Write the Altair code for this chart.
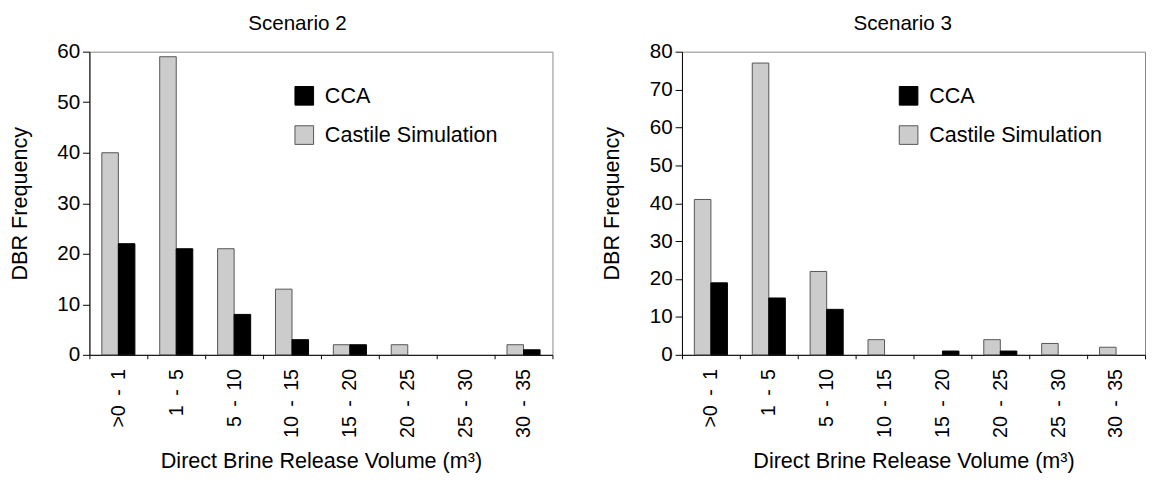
import altair as alt
import pandas as pd

categories = [">0 - 1", "1 - 5", "5 - 10", "10 - 15", "15 - 20", "20 - 25", "25 - 30", "30 - 35"]
series_names = ["CCA", "Castile Simulation"]

s2_castile = [40, 59, 21, 13, 2, 2, 0, 2]
s2_cca = [22, 21, 8, 3, 2, 0, 0, 1]
s3_castile = [41, 77, 22, 4, 0, 4, 3, 2]
s3_cca = [19, 15, 12, 0, 1, 1, 0, 0]

FONT = "Liberation Sans"
THIN = "\u2009"


def panel(castile, cca, title, ymax, width, legx, dx):
    df = pd.DataFrame({
        "cat": categories * 2,
        "series": ["Castile Simulation"] * len(categories) + ["CCA"] * len(categories),
        "value": castile + cca,
    })
    leg = alt.Legend(
        orient="none", legendX=legx, legendY=34, title=None,
        symbolType="square", symbolSize=361, symbolStrokeWidth=1,
        labelFontSize=22, labelFont=FONT, labelColor="black", labelLimit=0,
        labelOffset=10, rowPadding=16, padding=0,
    )
    return alt.Chart(df).transform_filter(
        alt.datum.value > 0
    ).mark_bar(strokeWidth=1).encode(
        x=alt.X(
            "cat:N", sort=categories,
            scale=alt.Scale(domain=categories, paddingInner=0, paddingOuter=0),
            axis=alt.Axis(
                title="Direct Brine Release Volume (m³)", labelAngle=-90,
                tickBand="extent", tickSize=4, labelPadding=10,
                labelExpr="replace(datum.label, ' - ', ' " + THIN + "-" + THIN + " ')",
                titlePadding=14,
            ),
        ),
        xOffset=alt.XOffset(
            "series:N",
            scale=alt.Scale(domain=["Castile Simulation", "CCA"], paddingInner=0, paddingOuter=0.75),
        ),
        y=alt.Y(
            "value:Q",
            scale=alt.Scale(domain=[0, ymax], nice=False),
            axis=alt.Axis(values=list(range(0, ymax + 1, 10)), title="DBR Frequency",
                          tickSize=7, labelPadding=3, titlePadding=26),
        ),
        color=alt.Color("series:N",
                        scale=alt.Scale(domain=series_names, range=["#000000", "#cccccc"]),
                        legend=leg),
        stroke=alt.Stroke("series:N",
                          scale=alt.Scale(domain=series_names, range=["#000000", "#555555"]),
                          legend=leg),
    ).properties(
        width=width, height=309,
        title=alt.TitleParams(title, dx=dx),
    )


left = panel(s2_castile, s2_cca, "Scenario 2", 60, 472, 208, -24)
right = panel(s3_castile, s3_cca, "Scenario 3", 80, 472, 220, -11)

chart = alt.hconcat(left, right, spacing=48).resolve_scale(
    y="independent", color="independent", stroke="independent"
).resolve_legend(color="independent", stroke="independent").properties(
    padding={"left": 0, "right": 0, "top": 0, "bottom": 0}
).configure_view(
    stroke="#888888", strokeWidth=1
).configure_axis(
    grid=False, domainColor="black", tickColor="black", labelColor="black",
    titleColor="black", labelFont=FONT, titleFont=FONT,
    labelFontSize=21, titleFontSize=22, titleFontWeight="normal",
).configure_axisX(
    labelFontSize=20,
).configure_title(
    font=FONT, fontSize=21, fontWeight="normal", color="black",
    frame="group", offset=7, anchor="middle",
)

chart.save("out.html", embed_options={"renderer": "svg", "actions": False})
